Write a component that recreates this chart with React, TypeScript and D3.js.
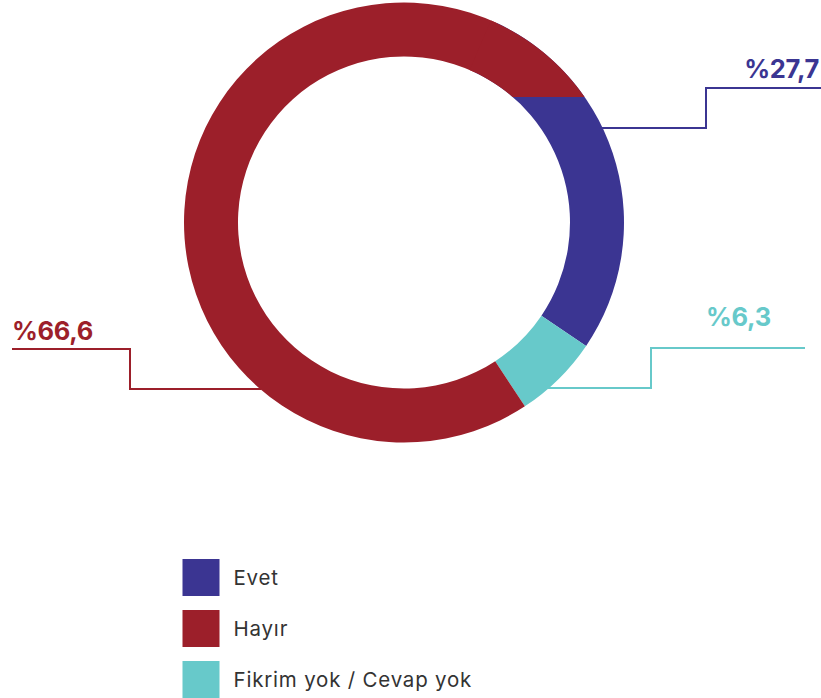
import React from "react";
import * as d3 from "d3";

const categories = ["Evet", "Hayır", "Fikrim yok / Cevap yok"];
const values = [27.7, 66.6, 6.3];
const valueLabels = ["%27,7", "%66,6", "%6,3"];
const colors = ["#3B3592", "#9C1F2A", "#67C9CA"];
const ringOrder = [0, 2, 1];

const W = 821;
const H = 698;
const cx = 404;
const cy = 222.5;
const outerR = 220;
const innerR = 166;

// leader layout: y at ring, step x, upper y, end x, text x, text baseline, anchor
const leaders = [
  { ringY: 128, stepX: 706, upY: 88, endX: 821, tx: 819, ty: 78, anchor: "end", side: 1 },
  { ringY: 389, stepX: 130, upY: 349, endX: 12, tx: 12, ty: 340, anchor: "start", side: -1 },
  { ringY: 388, stepX: 651, upY: 348, endX: 805, tx: 706, ty: 326, anchor: "start", side: 1 },
];

export default function App() {
  const start = (25 * Math.PI) / 180;
  const pie = d3
    .pie<number>()
    .sort(null)
    .value((i) => values[i])
    .startAngle(start)
    .endAngle(start + 2 * Math.PI);
  const arcs = pie(ringOrder);
  const arcGen = d3.arc<d3.PieArcDatum<number>>().innerRadius(innerR).outerRadius(outerR);
  const cutY = -0.57 * outerR;

  const legendY = d3.scaleBand<number>().domain([0, 1, 2]).range([559, 712]).paddingInner(0);

  return (
    <svg width={W} height={H} style={{ position: "absolute", left: 0, top: 0, background: "#fff" }}>
      <defs>
        <clipPath id="topcut">
          <rect x={-outerR - 2} y={-outerR - 2} width={2 * outerR + 4} height={outerR + 2 + cutY} />
        </clipPath>
      </defs>
      <g transform={`translate(${cx},${cy})`}>
        {arcs.map((a) => (
          <path key={a.data} d={arcGen(a) || ""} fill={colors[a.data]} />
        ))}
        {arcs
          .filter((a) => a.data === 0)
          .map((a) => (
            <path
              key="cover"
              d={arcGen({ ...a, startAngle: a.startAngle - 0.03 }) || ""}
              fill={colors[1]}
              clipPath="url(#topcut)"
            />
          ))}
      </g>
      {leaders.map((l, i) => {
        const dy = l.ringY - cy;
        const dx = Math.sqrt(outerR * outerR - dy * dy);
        const x0 = cx + l.side * (dx - 1);
        const pts: [number, number][] = [
          [x0, l.ringY],
          [l.stepX, l.ringY],
          [l.stepX, l.upY],
          [l.endX, l.upY],
        ];
        return (
          <g key={i}>
            <path d={d3.line()(pts) || ""} fill="none" stroke={colors[i]} strokeWidth={2} />
            <text
              x={l.tx}
              y={l.ty}
              textAnchor={l.anchor as any}
              fill={colors[i]}
              fontFamily="Inter, 'Open Sans', sans-serif"
              fontWeight={700}
              fontSize={25.5}
              letterSpacing={-0.3}
            >
              {valueLabels[i]}
            </text>
          </g>
        );
      })}
      {categories.map((c, i) => (
        <g key={c} transform={`translate(182.5,${legendY(i)})`}>
          <rect width={37} height={37} fill={colors[i]} />
          <text
            x={51}
            y={25.5}
            fill="#333"
            fontFamily="Inter, 'Open Sans', sans-serif"
            fontSize={20.5}
            letterSpacing={0.8}
          >
            {c}
          </text>
        </g>
      ))}
    </svg>
  );
}
